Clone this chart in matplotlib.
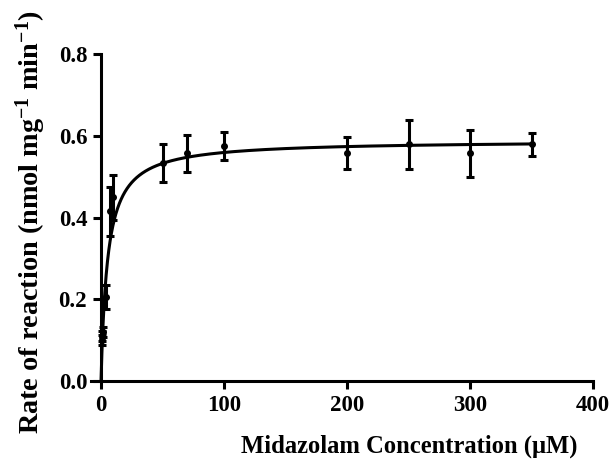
import matplotlib
matplotlib.use("Agg")
import matplotlib.pyplot as plt
import numpy as np

# measured points (midazolam conc in uM, rate, SD)
conc = [0.5, 1, 2, 4, 7, 10, 50, 70, 100, 200, 250, 300, 350]
rate = [0.100, 0.110, 0.120, 0.205, 0.415, 0.450, 0.534, 0.557, 0.575, 0.557, 0.579, 0.557, 0.579]
sd = [0.012, 0.012, 0.012, 0.030, 0.060, 0.055, 0.046, 0.046, 0.034, 0.039, 0.060, 0.058, 0.029]

# Michaelis-Menten fit parameters
vmax = 0.589
km = 5.3

xticks = [0, 100, 200, 300, 400]
yticks = [0.0, 0.2, 0.4, 0.6, 0.8]

plt.rcParams['font.family'] = ['Liberation Serif', 'DejaVu Serif']
plt.rcParams['font.weight'] = 'bold'
plt.rcParams['mathtext.fontset'] = 'custom'
plt.rcParams['mathtext.rm'] = 'Liberation Serif:bold'
plt.rcParams['mathtext.it'] = 'Liberation Serif:bold'
plt.rcParams['mathtext.bf'] = 'Liberation Serif:bold'

fig = plt.figure(figsize=(6.12, 4.59), dpi=100)
ax = fig.add_axes([0.149, 0.170, 0.820, 0.712])

xs = np.linspace(0, 350, 2000)
ax.plot(xs, vmax * xs / (km + xs), color='black', lw=2.2, zorder=3)
ax.errorbar(conc, rate, yerr=sd, fmt='o', color='black', ms=4,
            elinewidth=2.2, capsize=2.8, capthick=2.2, zorder=4)

ax.set_xlim(-8, 400)
ax.set_ylim(0, 0.8)
ax.spines['left'].set_position(('data', 0))
ax.spines['top'].set_visible(False)
ax.spines['right'].set_visible(False)
for s in ('left', 'bottom'):
    ax.spines[s].set_linewidth(2.2)
ax.set_xticks(xticks)
ax.set_yticks(yticks)
ax.set_xticklabels([str(t) for t in xticks])
ax.set_yticklabels(['%.1f' % t for t in yticks])
ax.tick_params(direction='out', length=6, width=2.2, labelsize=16.5, pad=4)

ax.set_xlabel('Midazolam Concentration (\u03bcM)', fontsize=17.7, fontweight='bold')
ax.xaxis.set_label_coords(0.633, -0.165)
ax.set_ylabel('Rate of reaction (nmol mg$^{-1}$ min$^{-1}$)', fontsize=20.3, fontweight='bold')
ax.yaxis.set_label_coords(-0.087, 0.485)

fig.savefig('out.png', dpi=100)
